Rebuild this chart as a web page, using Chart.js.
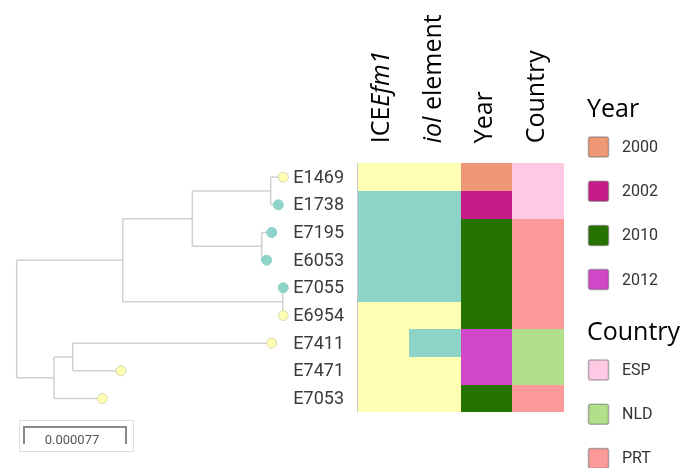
<!DOCTYPE html>
<html lang="en">
<head>
<meta charset="UTF-8">
<title>Tree with ICE / iol / Year / Country</title>
<script src="https://cdn.jsdelivr.net/npm/chart.js"></script>
<style>
  html, body { margin: 0; padding: 0; background: #fff; }
  canvas { display: block; }
</style>
</head>
<body>
<canvas id="treeChart" width="685" height="468"></canvas>
<script>
// leaves, top to bottom
const leaves = ['E1469', 'E1738', 'E7195', 'E6053', 'E7055', 'E6954', 'E7411', 'E7471', 'E7053'];

// tree: node id, parent, distance from root (subst./site)
const nodeIds = ['root', 'n1', 'n2', 'n3', 'n4', 'n5', 'n6', 'n7',
  'E1469', 'E1738', 'E7195', 'E6053', 'E7055', 'E6954', 'E7411', 'E7471', 'E7053'];
const nodeParents = [null, 'root', 'n1', 'n2', 'n2', 'n1', 'root', 'n6',
  'n3', 'n3', 'n4', 'n4', 'n5', 'n5', 'n7', 'n7', 'n6'];
const nodeDepths = [0, 0.0000800, 0.0001326, 0.0001917, 0.0001850, 0.0002008, 0.0000282, 0.0000423,
  0.0002012, 0.0001975, 0.0001925, 0.0001887, 0.0002012, 0.0002012, 0.0001925, 0.0000787, 0.0000646];

// metadata (same order as leaves)
const iceEfm1 = [0, 1, 1, 1, 1, 0, 0, 0, 0];
const iolElement = [0, 1, 1, 1, 1, 0, 1, 0, 0];
const years = ['2000', '2002', '2010', '2010', '2010', '2010', '2012', '2012', '2010'];
const countries = ['ESP', 'ESP', 'PRT', 'PRT', 'PRT', 'PRT', 'NLD', 'NLD', 'PRT'];

const yearLevels = ['2000', '2002', '2010', '2012'];
const countryLevels = ['ESP', 'NLD', 'PRT'];
const scaleBarLength = 0.000077;

const presenceColors = ['#ffffb3', '#8dd3c7'];
const yearColors = ['#ee9877', '#c71b8b', '#267300', '#d147c8'];
const countryColors = ['#fdc9e3', '#b2df8a', '#fb9a99'];

// header text pieces: [text, italic]
const headers = [
  [['ICE', false], ['Efm1', true]],
  [['iol', true], [' element', false]],
  [['Year', false]],
  [['Country', false]]
];

// ---- tree layout ----
function depthOf(id) { return nodeDepths[nodeIds.indexOf(id)]; }
function childrenOf(id) { return nodeIds.filter((n, i) => nodeParents[i] === id); }
function rowOf(id) {
  const i = leaves.indexOf(id);
  if (i >= 0) return i;
  const rows = childrenOf(id).map(rowOf);
  return (Math.min(...rows) + Math.max(...rows)) / 2;
}

const branchSets = [];
nodeIds.forEach((id, i) => {
  const p = nodeParents[i];
  if (p) {
    branchSets.push([{ x: depthOf(p), y: rowOf(id) }, { x: nodeDepths[i], y: rowOf(id) }]);
  }
  const kids = childrenOf(id);
  if (kids.length) {
    const rows = kids.map(rowOf);
    branchSets.push([{ x: nodeDepths[i], y: Math.min(...rows) }, { x: nodeDepths[i], y: Math.max(...rows) }]);
  }
});

const datasets = branchSets.map(seg => ({
  type: 'scatter', data: seg, showLine: true, borderColor: '#d0d0d0', borderWidth: 1.5,
  pointRadius: 0, order: 2, xAxisID: 'x', yAxisID: 'y'
}));
datasets.push({
  type: 'scatter',
  data: leaves.map(l => ({ x: depthOf(l), y: rowOf(l) })),
  pointRadius: 5,
  backgroundColor: leaves.map((l, i) => presenceColors[iceEfm1[i]]),
  borderColor: leaves.map((l, i) => iceEfm1[i] ? '#8dd3c7' : '#d6d6b4'),
  borderWidth: 1,
  order: 1, xAxisID: 'x', yAxisID: 'y'
});

function drawSegments(ctx, parts, x, y) {
  let cx = x;
  parts.forEach(([txt, it]) => {
    ctx.font = (it ? 'italic ' : '') + '25px "Open Sans"';
    ctx.fillText(txt, cx, y);
    cx += ctx.measureText(txt).width;
  });
}

const extras = {
  id: 'extras',
  afterDraw(chart) {
    const ctx = chart.ctx;
    const xs = chart.scales.x, xh = chart.scales.xh, ys = chart.scales.y;
    ctx.save();

    // heatmap
    const cols = [
      iceEfm1.map(v => presenceColors[v]),
      iolElement.map(v => presenceColors[v]),
      years.map(v => yearColors[yearLevels.indexOf(v)]),
      countries.map(v => countryColors[countryLevels.indexOf(v)])
    ];
    cols.forEach((col, c) => {
      const x0 = Math.round(xh.getPixelForValue(c - 0.5));
      const x1 = Math.round(xh.getPixelForValue(c + 0.5));
      col.forEach((color, r) => {
        const y0 = Math.round(ys.getPixelForValue(r - 0.5));
        const y1 = Math.round(ys.getPixelForValue(r + 0.5));
        ctx.fillStyle = color;
        ctx.fillRect(x0, y0, x1 - x0, y1 - y0);
      });
    });
    const hmLeft = xh.getPixelForValue(-0.5);
    const hmTop = ys.getPixelForValue(-0.5);
    ctx.strokeStyle = '#c8c8c8';
    ctx.lineWidth = 1;
    ctx.beginPath();
    ctx.moveTo(Math.round(hmLeft) + 0.5, hmTop);
    ctx.lineTo(Math.round(hmLeft) + 0.5, ys.getPixelForValue(leaves.length - 0.5));
    ctx.stroke();

    // column headers
    ctx.fillStyle = '#000';
    ctx.textBaseline = 'alphabetic';
    ctx.textAlign = 'left';
    headers.forEach((parts, c) => {
      ctx.save();
      ctx.translate(xh.getPixelForValue(c) + 6, hmTop - 20);
      ctx.rotate(-Math.PI / 2);
      drawSegments(ctx, parts, 0, 0);
      ctx.restore();
    });

    // leaf labels
    ctx.font = '18px Roboto';
    ctx.fillStyle = '#3a3a3a';
    ctx.textBaseline = 'middle';
    leaves.forEach((l, r) => ctx.fillText(l, hmLeft - 64, ys.getPixelForValue(r) + 1));

    // legend
    const lx = 588;
    function group(title, levels, colors, top) {
      ctx.font = '25px "Open Sans"';
      ctx.fillStyle = '#000';
      ctx.textBaseline = 'alphabetic';
      ctx.fillText(title, lx - 1, top);
      levels.forEach((lv, i) => {
        const cy = top + 30 + i * 44.2;
        ctx.fillStyle = colors[i];
        ctx.strokeStyle = 'rgba(90,90,90,0.45)';
        ctx.lineWidth = 1.5;
        ctx.beginPath();
        ctx.roundRect(lx + 0.5, cy - 10, 20, 20, 2);
        ctx.fill();
        ctx.stroke();
        ctx.font = '16px Roboto';
        ctx.fillStyle = '#333';
        ctx.textBaseline = 'middle';
        ctx.fillText(lv, lx + 34, cy + 1);
      });
    }
    group('Year', yearLevels, yearColors, 117);
    group('Country', countryLevels, countryColors, 340);

    // scale bar
    const sx0 = 24;
    const sx1 = sx0 + (xs.getPixelForValue(scaleBarLength) - xs.getPixelForValue(0));
    ctx.strokeStyle = '#dddddd';
    ctx.lineWidth = 1;
    ctx.strokeRect(19.5, 420.5, sx1 - sx0 + 12, 31);
    ctx.strokeStyle = '#8a8a8a';
    ctx.lineWidth = 2;
    ctx.beginPath();
    ctx.moveTo(sx0, 444);
    ctx.lineTo(sx0, 427);
    ctx.lineTo(sx1, 427);
    ctx.lineTo(sx1, 444);
    ctx.stroke();
    ctx.font = '13px Roboto';
    ctx.fillStyle = '#555';
    ctx.textAlign = 'center';
    ctx.textBaseline = 'middle';
    ctx.fillText(scaleBarLength.toFixed(6), (sx0 + sx1) / 2 - 3, 441);

    ctx.restore();
  }
};

new Chart(document.getElementById('treeChart'), {
  type: 'scatter',
  data: { datasets },
  options: {
    responsive: false,
    animation: false,
    devicePixelRatio: 1,
    layout: { padding: 0, autoPadding: false },
    plugins: { legend: { display: false }, tooltip: { enabled: false } },
    scales: {
      x: { type: 'linear', min: -0.000012607, max: 0.00050449, display: false },
      xh: { type: 'linear', axis: 'x', min: -7.415, max: 5.842, display: false },
      y: { type: 'linear', reverse: true, min: -6.402, max: 10.512, display: false }
    }
  },
  plugins: [extras]
});
</script>
</body>
</html>
